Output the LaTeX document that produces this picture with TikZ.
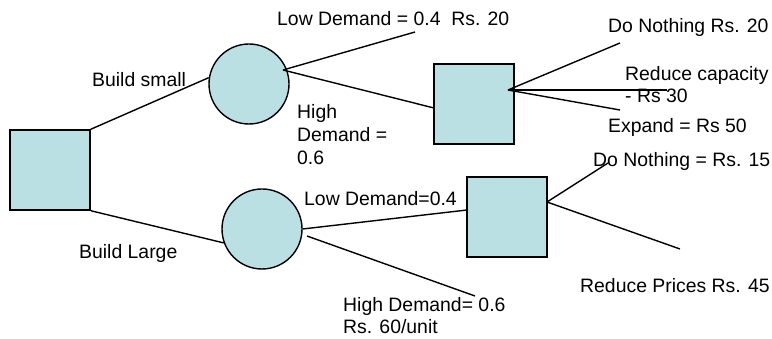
\documentclass[tikz,border=0pt]{standalone}
\usepackage{fontspec}
\setmainfont{Liberation Sans}
\usetikzlibrary{calc}
\definecolor{boxfill}{RGB}{187,224,227}
\begin{document}
\begin{tikzpicture}[x=1pt,y=-1pt,
  decision/.style={draw=black,line width=1.4pt,fill=boxfill,minimum size=80pt,inner sep=0pt,shape=rectangle},
  chance/.style={draw=black,line width=1.4pt,fill=boxfill,minimum size=80pt,inner sep=0pt,shape=circle},
  lbl/.style={anchor=base west,inner sep=0pt,font=\fontsize{19.4}{22.6}\selectfont},
  conn/.style={line width=1.4pt}]
\useasboundingbox (0,0) rectangle (772,339);
% nodes
\node[decision] (d) at (50,170) {};
\node[chance] (c1) at (249,84) {};
\node[chance] (c2) at (262,229) {};
\node[decision] (s2) at (474,104) {};
\node[decision] (s3) at (507,217) {};
% hubs and free ends
\coordinate (c1hub) at (283,70);
\coordinate (c2hub) at (307,236);
\coordinate (s2hub) at (508,90);
\coordinate (s3hub) at (547,202);
\coordinate (s2in) at (434,108);
\coordinate (s3in) at (467,210);
\coordinate (e1) at (415,32);
\coordinate (e2) at (620,43);
\coordinate (e3) at (667,90);
\coordinate (e4) at (620,110);
\coordinate (e5) at (475,296);
\coordinate (e6) at (608,163);
\coordinate (e7) at (680,249);
% connectors
\draw[conn] (d.north east) -- (c1.171);
\draw[conn] (d.south east) -- (c2.200);
\draw[conn] (c1hub) -- (e1);
\draw[conn] (c1hub) -- (s2in);
\draw[conn] (s2hub) -- (e2);
\draw[conn] (s2hub) -- (e3);
\draw[conn] (s2hub) -- (e4);
\draw[conn] (c2.east) -- (s3in);
\draw[conn] (c2hub) -- (e5);
\draw[conn] (s3hub) -- (e6);
\draw[conn] (s3hub) -- (e7);
% labels
\node[lbl] (t1) at (277,26) {Low Demand = 0.4\ \ Rs. 20};
\node[lbl] (t2) at (92,87) {Build small};
\node[lbl] (t3a) at (297,119) {High};
\node[lbl] (t3b) at (297,142) {Demand =};
\node[lbl] (t3c) at (297,165) {0.6};
\node[lbl] (t4) at (608,33) {Do Nothing Rs. 20};
\node[lbl] (t5a) at (625,81) {Reduce capacity};
\node[lbl] (t5b) at (625,103) {- Rs 30};
\node[lbl] (t6) at (608,133) {Expand = Rs 50};
\node[lbl] (t7) at (593,167) {Do Nothing = Rs. 15};
\node[lbl] (t8) at (304,206) {Low Demand=0.4};
\node[lbl] (t9) at (79,259) {Build Large};
\node[lbl] (t10a) at (343,312) {High Demand= 0.6};
\node[lbl] (t10b) at (343,334) {Rs. 60/unit};
\node[lbl] (t11) at (580,293) {Reduce Prices Rs. 45};
\end{tikzpicture}
\end{document}
